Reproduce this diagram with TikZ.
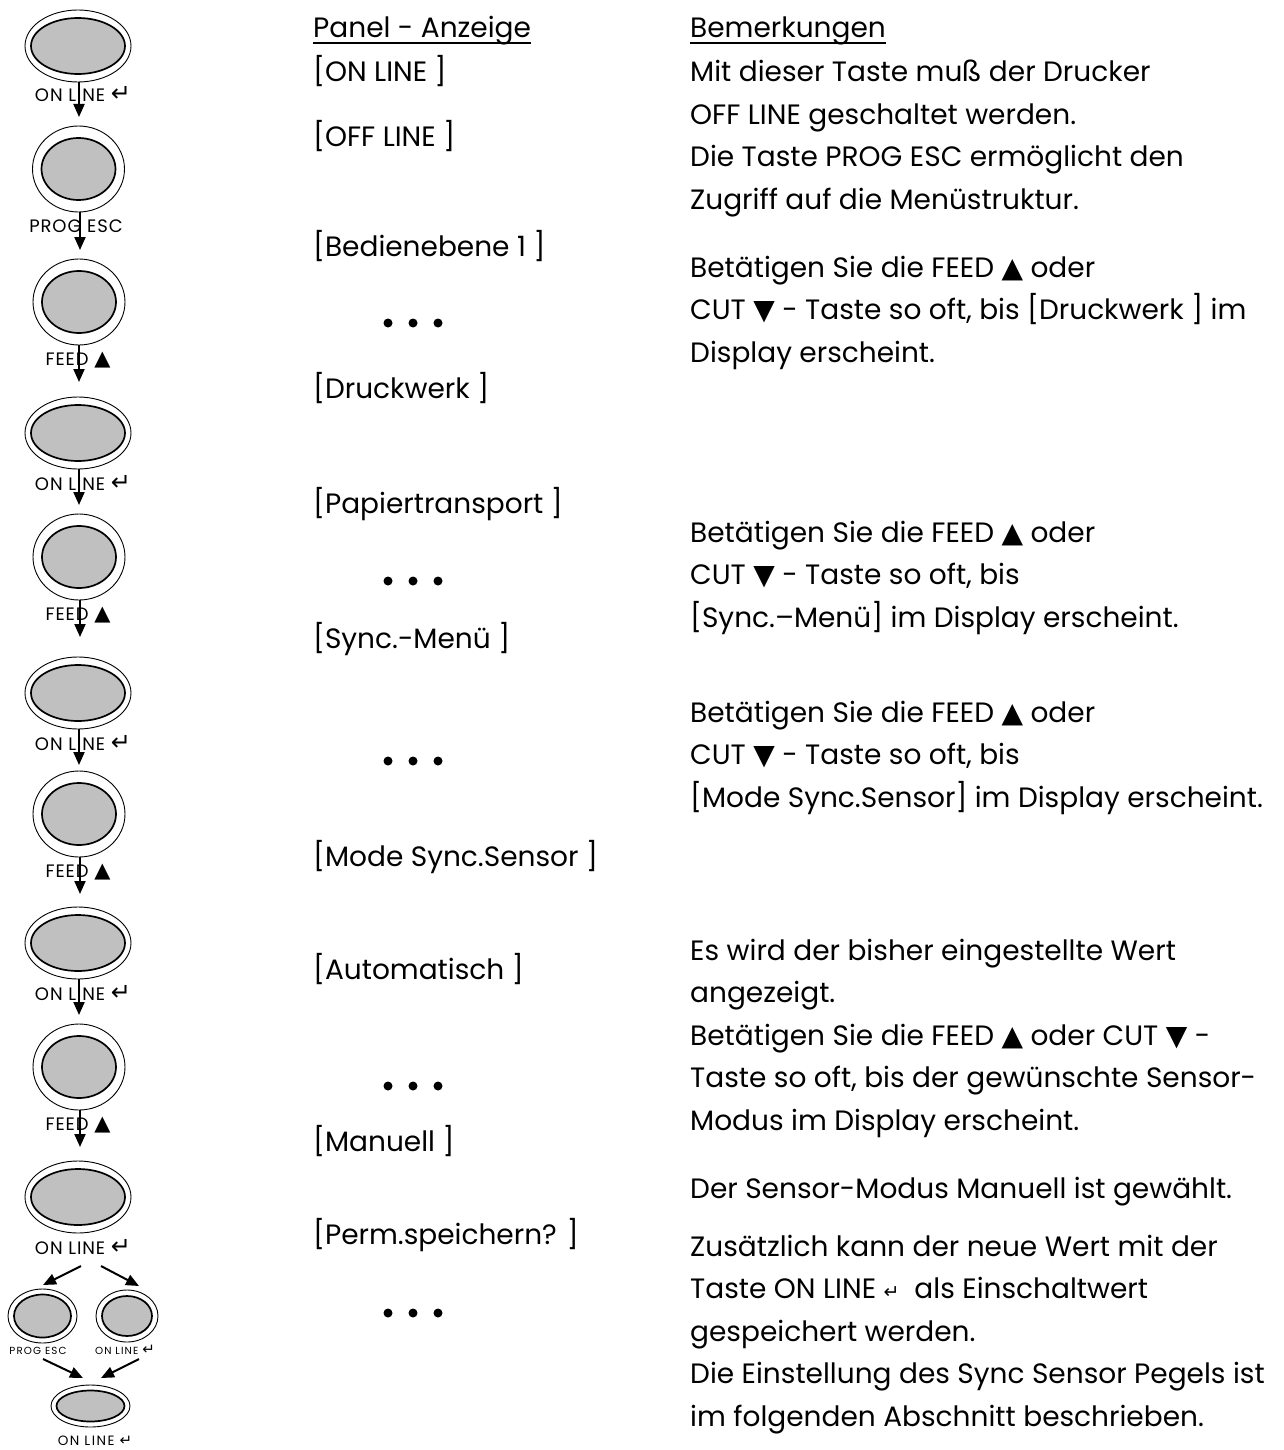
\documentclass[tikz,border=0pt]{standalone}
\usepackage{fontspec}
\setmainfont{Poppins}
\newfontfamily\sym{DejaVu Sans}
\newfontfamily\lblfont[LetterSpace=5]{Poppins}
\newfontfamily\smlfont[LetterSpace=11]{Poppins}
\usetikzlibrary{shapes.geometric,arrows.meta,calc}
\definecolor{btngray}{HTML}{C0C0C0}
\newcommand\up{{\sym\fontsize{28}{28}\selectfont ▲}}
\newcommand\dn{{\sym\fontsize{28}{28}\selectfont ▼}}
\newcommand\lup{{\sym\fontsize{21}{21}\selectfont ▲}}
\newcommand\ret{{\sym\fontsize{24}{24}\selectfont ↵}}
\newcommand\sret{{\sym\fontsize{15}{15}\selectfont ↵}}
\newcommand\mkbtn[7]{%
  \node[outerell, minimum width={2*#4}, minimum height={2*#5}] (#1) at (#2,#3) {};
  \node[innerell, minimum width={2*#6}, minimum height={2*#7}] (#1i) at (#2,#3) {};}
\begin{document}
\begin{tikzpicture}[x=1pt,y=-1pt,
  outerell/.style={ellipse, draw, line width=0.9pt, inner sep=0pt, outer sep=0pt},
  innerell/.style={ellipse, draw, line width=1.7pt, fill=btngray, inner sep=0pt, outer sep=0pt},
  lbl/.style={font=\lblfont\fontsize{18}{18}\selectfont, inner sep=0pt, anchor=base},
  sml/.style={font=\smlfont\fontsize{10.3}{10.3}\selectfont, inner sep=0pt, anchor=base},
  smlb/.style={font=\smlfont\fontsize{13.5}{13.5}\selectfont, inner sep=0pt, anchor=base},
  txt/.style={font=\fontsize{28}{33}\selectfont, inner sep=0pt, anchor=base west},
  arr/.style={line width=2pt, -{Triangle[length=13pt,width=11pt]}},
  dot/.style={circle, fill, inner sep=0pt, minimum size=9pt},
  uline/.style={line width=1.6pt}]
\useasboundingbox (0,0) rectangle (1283,1450);
% ---------- buttons ----------
\mkbtn{b1}{78}{46}{53}{36}{47}{28}
\node[lbl] (l1) at (83,102) {ON LINE \ret};
\mkbtn{b2}{78.5}{169}{46}{43}{37}{31}
\node[lbl] (l2) at (76,232) {PROG ESC};
\mkbtn{b3}{79}{302}{46}{43}{37}{31}
\node[lbl] (l3) at (78,365) {FEED \lup};
\mkbtn{b4}{78}{433}{53}{36}{47}{28}
\node[lbl] (l4) at (83,490) {ON LINE \ret};
\mkbtn{b5}{79}{557}{46}{43}{37}{31}
\node[lbl] (l5) at (78,620) {FEED \lup};
\mkbtn{b6}{78}{693}{53}{36}{47}{28}
\node[lbl] (l6) at (83,750) {ON LINE \ret};
\mkbtn{b7}{79}{814}{46}{43}{37}{31}
\node[lbl] (l7) at (78,877) {FEED \lup};
\mkbtn{b8}{78}{943}{53}{36}{47}{28}
\node[lbl] (l8) at (83,1000) {ON LINE \ret};
\mkbtn{b9}{79}{1067}{46}{43}{37}{31}
\node[lbl] (l9) at (78,1130) {FEED \lup};
\mkbtn{b10}{78}{1197}{53}{36}{47}{28}
\node[lbl] (l10) at (83,1254) {ON LINE \ret};
\mkbtn{b11}{42.5}{1316}{34.5}{27}{28.5}{21.5}
\node[sml] (l11) at (38,1354) {PROG ESC};
\mkbtn{b12}{127}{1316}{31}{26}{25}{20}
\node[sml] (l12) at (125,1354) {ON LINE \sret};
\mkbtn{b13}{90.5}{1406}{39.5}{21}{34}{15.5}
\node[smlb] (l13) at (95,1445) {ON LINE \sret};
% ---------- arrows ----------
\coordinate (t1) at (79,117);
\coordinate (t2) at (80,250);
\coordinate (t3) at (79,382);
\coordinate (t4) at (79,505);
\coordinate (t5) at (80,637);
\coordinate (t6) at (79,765);
\coordinate (t7) at (80,894);
\coordinate (t8) at (79,1015);
\coordinate (t9) at (80,1147);
\draw[arr] ([xshift=1pt]b1.south) -- (t1);
\draw[arr] ([xshift=1.5pt]b2.south) -- (t2);
\draw[arr] (b3.south) -- (t3);
\draw[arr] ([xshift=1pt]b4.south) -- (t4);
\draw[arr] ([xshift=1pt]b5.south) -- (t5);
\draw[arr] ([xshift=1pt]b6.south) -- (t6);
\draw[arr] ([xshift=1pt]b7.south) -- (t7);
\draw[arr] ([xshift=1pt]b8.south) -- (t8);
\draw[arr] ([xshift=1pt]b9.south) -- (t9);
\coordinate (s1) at (81,1266);
\coordinate (e1) at (43,1285);
\coordinate (s2) at (101,1266);
\coordinate (e2) at (139,1286);
\coordinate (s3) at (43,1359);
\coordinate (e3) at (83,1378);
\coordinate (s4) at (139,1359);
\coordinate (e4) at (101,1378);
\draw[arr] (s1) -- (e1);
\draw[arr] (s2) -- (e2);
\draw[arr] (s3) -- (e3);
\draw[arr] (s4) -- (e4);
% ---------- middle column ----------
\node[txt] (m0) at (313,38) {Panel - Anzeige};
\draw[uline] ([yshift=-5pt]m0.base west) -- ([yshift=-5pt]m0.base east);
\node[txt] (m1) at (313,82) {[ON LINE ]};
\node[txt] (m2) at (313,147) {[OFF LINE ]};
\node[txt] (m3) at (313,256) {[Bedienebene 1 ]};
\node[dot] (d1a) at (388,323) {}; \node[dot] (d1b) at (413,323) {}; \node[dot] (d1c) at (438,323) {};
\node[txt] (m4) at (313,398) {[Druckwerk ]};
\node[txt] (m5) at (313,513) {[Papiertransport ]};
\node[dot] (d2a) at (388,581) {}; \node[dot] (d2b) at (413,581) {}; \node[dot] (d2c) at (438,581) {};
\node[txt] (m6) at (313,648) {[Sync.-Menü ]};
\node[dot] (d3a) at (388,761) {}; \node[dot] (d3b) at (413,761) {}; \node[dot] (d3c) at (438,761) {};
\node[txt] (m7) at (313,866) {[Mode Sync.Sensor ]};
\node[txt] (m8) at (313,979) {[Automatisch ]};
\node[dot] (d4a) at (388,1086) {}; \node[dot] (d4b) at (413,1086) {}; \node[dot] (d4c) at (438,1086) {};
\node[txt] (m9) at (313,1151) {[Manuell ]};
\node[txt] (m10) at (313,1244) {[Perm.speichern? ]};
\node[dot] (d5a) at (388,1313) {}; \node[dot] (d5b) at (413,1313) {}; \node[dot] (d5c) at (438,1313) {};
% ---------- right column ----------
\node[txt] (r0) at (690,38) {Bemerkungen};
\draw[uline] ([yshift=-5pt]r0.base west) -- ([yshift=-5pt]r0.base east);
\node[txt] (r1) at (690,82) {Mit dieser Taste muß der Drucker};
\node[txt] (r2) at (690,124.5) {OFF LINE geschaltet werden.};
\node[txt] (r3) at (690,167) {Die Taste PROG ESC ermöglicht den};
\node[txt] (r4) at (690,209.5) {Zugriff auf die Menüstruktur.};
\node[txt] (r5) at (690,277) {Betätigen Sie die FEED \up{} oder};
\node[txt] (r6) at (690,319.5) {CUT \dn{} - Taste so oft, bis [Druckwerk ] im};
\node[txt] (r7) at (690,362) {Display erscheint.};
\node[txt] (r8) at (690,542) {Betätigen Sie die FEED \up{} oder};
\node[txt] (r9) at (690,584.5) {CUT \dn{} - Taste so oft, bis};
\node[txt] (r10) at (690,627) {[Sync.–Menü] im Display erscheint.};
\node[txt] (r11) at (690,722) {Betätigen Sie die FEED \up{} oder};
\node[txt] (r12) at (690,764.5) {CUT \dn{} - Taste so oft, bis};
\node[txt] (r13) at (690,807) {[Mode Sync.Sensor] im Display erscheint.};
\node[txt] (r14) at (690,960) {Es wird der bisher eingestellte Wert};
\node[txt] (r15) at (690,1002.5) {angezeigt.};
\node[txt] (r16) at (690,1045) {Betätigen Sie die FEED \up{} oder CUT \dn{} -};
\node[txt] (r17) at (690,1087.5) {Taste so oft, bis der gewünschte Sensor-};
\node[txt] (r18) at (690,1130) {Modus im Display erscheint.};
\node[txt] (r19) at (690,1198) {Der Sensor-Modus Manuell ist gewählt.};
\node[txt] (r20) at (690,1256) {Zusätzlich kann der neue Wert mit der};
\node[txt] (r21) at (690,1298.5) {Taste ON LINE {\sym\fontsize{19}{19}\selectfont ↵}\ \ als Einschaltwert};
\node[txt] (r22) at (690,1341) {gespeichert werden.};
\node[txt] (r23) at (690,1383.5) {Die Einstellung des Sync Sensor Pegels ist};
\node[txt] (r24) at (690,1426) {im folgenden Abschnitt beschrieben.};
\end{tikzpicture}
\end{document}
